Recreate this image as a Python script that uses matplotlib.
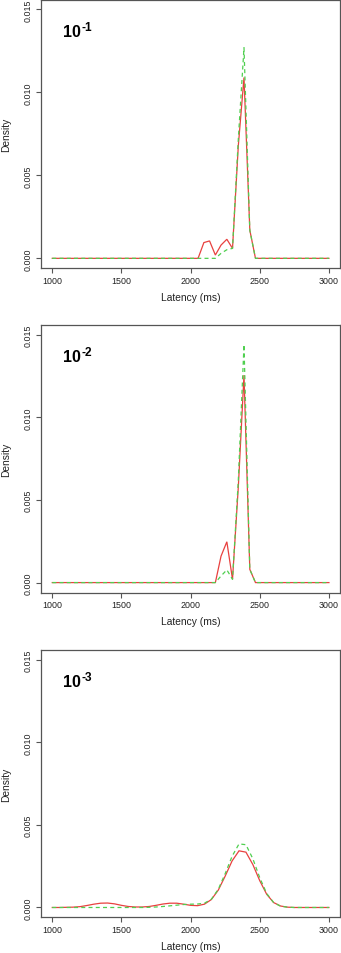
import matplotlib
matplotlib.use("Agg")
import matplotlib.pyplot as plt

plt.rcParams['font.family'] = ['Liberation Sans', 'DejaVu Sans']

# ---- data ----
panel_base = ['10', '10', '10']
panel_exp = ['-1', '-2', '-3']

lat1 = [1000, 2054, 2096, 2137, 2179, 2220, 2262, 2303, 2345, 2386, 2428, 2469, 3000]
red1 = [0, 0, 0.00095, 0.00105, 0.0002, 0.0008, 0.00115, 0.0006, 0.0068, 0.0109, 0.0017, 0, 0]
green1 = [0, 0, 0, 0, 0, 0.0003, 0.00052, 0.0006, 0.0072, 0.0127, 0.0017, 0, 0]

lat2 = [1000, 2179, 2220, 2262, 2303, 2345, 2386, 2428, 2469, 3000]
red2 = [0, 0, 0.0016, 0.00247, 0.0002, 0.0058, 0.01256, 0.0008, 0, 0]
green2 = [0, 0, 0.0004, 0.00077, 0.0002, 0.0062, 0.0144, 0.0008, 0, 0]

lat3 = [1000, 1050, 1100, 1150, 1200, 1250, 1300, 1350, 1400, 1450, 1500,
        1550, 1600, 1650, 1700, 1750, 1800, 1850, 1900, 1950, 2000,
        2050, 2100, 2150, 2200, 2250, 2300, 2350, 2400, 2450, 2500,
        2550, 2600, 2650, 2700, 2750, 2800, 2850, 2900, 2950, 3000]
red3 = [0, 0, 0.00001, 0.00002, 0.00005, 0.00012, 0.0002, 0.00026, 0.00027, 0.00022, 0.00013,
        0.00006, 0.00003, 0.00003, 0.00006, 0.00013, 0.00021, 0.00026, 0.00026, 0.0002, 0.00013,
        0.00011, 0.0002, 0.00048, 0.00105, 0.0019, 0.00282, 0.00343, 0.00335, 0.0026, 0.00162,
        0.0008, 0.0003, 0.00009, 0.00002, 0, 0, 0, 0, 0, 0]
green3 = [0, 0, 0, 0, 0, 0, 0, 0, 0, 0, 0,
          0, 0, 0, 0.00001, 0.00003, 0.00006, 0.0001, 0.00014, 0.00018, 0.0002,
          0.00021, 0.00026, 0.0005, 0.0011, 0.00205, 0.0031, 0.00385, 0.0038, 0.00295, 0.0018,
          0.00085, 0.0003, 0.00008, 0.00002, 0, 0, 0, 0, 0, 0]

xticks = [1000, 1500, 2000, 2500, 3000]
yticks = [0.000, 0.005, 0.010, 0.015]
ytick_labels = ['0.000', '0.005', '0.010', '0.015']

series = [(lat1, red1, green1), (lat2, red2, green2), (lat3, red3, green3)]

# ---- layout ----
W, H = 341, 954
fig = plt.figure(figsize=(W / 100, H / 100), dpi=100)
left_px, right_px = 41.2, 340.0
boxes = [(0.5, 269.3), (325.8, 593.5), (650.8, 918.4)]

red_c = '#e8413f'
green_c = '#4fcf4f'
axis_c = '#555555'
txt_c = '#222222'

for (top, bot), (lat, r, g), base, ex in zip(boxes, series, panel_base, panel_exp):
    ax = fig.add_axes([left_px / W, (H - bot) / H, (right_px - left_px) / W, (bot - top) / H])
    ax.plot(lat, r, color=red_c, lw=0.9, solid_joinstyle='miter')
    ax.plot(lat, g, color=green_c, lw=0.9, linestyle=(0, (3.2, 2.6)))
    ax.set_xlim(920, 3080)
    ax.set_ylim(-0.0006, 0.0156)
    ax.set_xticks(xticks)
    ax.set_xticklabels([str(t) for t in xticks])
    ax.set_yticks(yticks)
    ax.set_yticklabels(ytick_labels, rotation=90, va='center')
    for s in ax.spines.values():
        s.set_color(axis_c)
        s.set_linewidth(0.9)
    ax.tick_params(axis='both', direction='out', length=3.6, width=0.8,
                   color=axis_c, labelsize=6.4, pad=2.0, labelcolor=txt_c)
    ax.tick_params(axis='y', pad=2.4)
    ax.set_xlabel('Latency (ms)', fontsize=7.4, labelpad=5.0, color=txt_c)
    ax.set_ylabel('Density', fontsize=7.4, labelpad=9.0, color=txt_c)
    t = ax.text(1077, 0.0134, base, fontsize=11.5, fontweight='bold',
                ha='left', va='baseline', color='black')
    ax.annotate(ex, xy=(1, 0), xycoords=t, xytext=(0.6, 6.6), textcoords='offset points',
                fontsize=8.6, fontweight='bold', ha='left', va='baseline', color='black')

fig.savefig('out.png', dpi=100)
